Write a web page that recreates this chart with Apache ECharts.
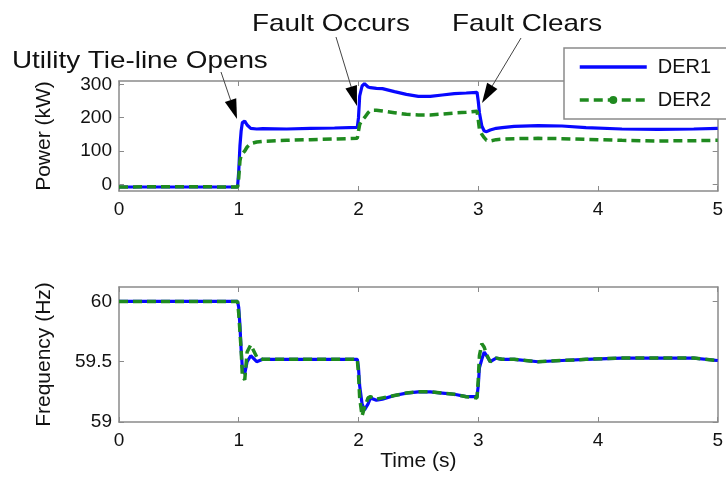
<!DOCTYPE html>
<html>
<head>
<meta charset="utf-8">
<script src="https://cdn.jsdelivr.net/npm/echarts@6/dist/echarts.min.js"></script>
<style>
    html, body { margin: 0; padding: 0; background: #fff; }
    #chart { width: 726px; height: 485px; }
</style>
</head>
<body>
<div id="chart"></div>
<script>
// time samples (s), shared by all four traces
const time = [0, 0.5, 0.99, 1.0, 1.01, 1.02, 1.03, 1.05, 1.07, 1.1, 1.15, 1.2, 1.4, 1.6, 1.8, 1.99,
    2.0, 2.01, 2.03, 2.05, 2.08, 2.1, 2.15, 2.2, 2.3, 2.4, 2.5, 2.6, 2.7, 2.8, 2.9, 2.99,
    3.0, 3.01, 3.03, 3.05, 3.07, 3.1, 3.15, 3.2, 3.3, 3.5, 3.7, 3.9, 4.2, 4.5, 4.8, 5.0];

// power (kW)
const der1Power = [-8, -8, -8, 40, 115, 160, 185, 190, 178, 168, 166, 167, 166, 168, 169, 171,
    200, 265, 295, 302, 292, 290, 288, 287, 278, 270, 264, 264, 268, 272, 274, 276,
    250, 215, 175, 160, 158, 163, 168, 170, 174, 176, 175, 170, 166, 165, 166, 168];
const der2Power = [-8, -7, -8, 20, 70, 88, 92, 100, 112, 122, 127, 129, 132, 134, 136, 138,
    160, 180, 192, 200, 215, 222, 222, 220, 215, 210, 208, 208, 211, 214, 216, 219,
    195, 165, 150, 140, 132, 130, 134, 136, 137, 138, 137, 135, 132, 130, 131, 132];

// frequency (Hz)
const der1Freq = [60, 60, 60, 59.95, 59.8, 59.6, 59.45, 59.4, 59.5, 59.55, 59.5, 59.52, 59.52, 59.52, 59.52, 59.52,
    59.45, 59.3, 59.15, 59.1, 59.15, 59.2, 59.18, 59.19, 59.22, 59.24, 59.25, 59.25, 59.24, 59.23, 59.21, 59.21,
    59.3, 59.45, 59.52, 59.58, 59.55, 59.5, 59.53, 59.52, 59.52, 59.5, 59.51, 59.52, 59.53, 59.53, 59.53, 59.51];
const der2Freq = [60, 60, 60, 59.9, 59.75, 59.6, 59.38, 59.35, 59.58, 59.64, 59.54, 59.52, 59.52, 59.52, 59.52, 59.52,
    59.4, 59.2, 59.05, 59.12, 59.2, 59.21, 59.19, 59.2, 59.22, 59.24, 59.25, 59.25, 59.24, 59.23, 59.21, 59.2,
    59.35, 59.55, 59.65, 59.62, 59.56, 59.5, 59.53, 59.52, 59.52, 59.5, 59.51, 59.52, 59.53, 59.53, 59.53, 59.51];

const timeTicks = [0, 1, 2, 3, 4, 5];
const powerTicks = [0, 100, 200, 300];
const freqTicks = [59, 59.5, 60];

const annotations = [
    { text: 'Utility Tie-line Opens', left: 12, top: 61, from: [221, 72], to: [237, 119] },
    { text: 'Fault Occurs', left: 252, top: 24, from: [336, 37], to: [357, 106] },
    { text: 'Fault Clears', left: 452, top: 24, from: [521, 38], to: [482, 103] }
];

const FONT = '"Liberation Sans", Arial, Helvetica, sans-serif';
const FRAME = '#8a8a8a';
const BLUE = '#0808ff';
const GREEN = '#1f8a1f';

function pairs(xs, ys) {
    return xs.map((x, i) => [x, ys[i]]);
}

function xAxes(gridIndex) {
    const base = {
        type: 'value', gridIndex: gridIndex, min: 0, max: 5, interval: 1,
        axisLine: { show: true, onZero: false, lineStyle: { color: FRAME, width: 1.5 } },
        axisTick: { show: true, inside: true, length: 5, lineStyle: { color: FRAME } },
        splitLine: { show: false }
    };
    return [
        Object.assign({}, base, {
            position: 'bottom',
            axisLabel: { color: '#111', fontSize: 19, fontFamily: FONT, margin: 9 },
            name: gridIndex === 1 ? 'Time (s)' : '',
            nameLocation: 'middle', nameGap: 28,
            nameTextStyle: { color: '#111', fontSize: 21, fontFamily: FONT }
        }),
        Object.assign({}, base, { position: 'top', axisLabel: { show: false } })
    ];
}

function yAxes(gridIndex, min, max, ticks, name) {
    const base = {
        type: 'value', gridIndex: gridIndex, min: min, max: max,
        axisLine: { show: true, onZero: false, lineStyle: { color: FRAME, width: 1.5 } },
        axisTick: { show: true, inside: true, length: 5, customValues: ticks, lineStyle: { color: FRAME } },
        splitLine: { show: false }
    };
    return [
        Object.assign({}, base, {
            position: 'left',
            axisLabel: { color: '#111', fontSize: 19, fontFamily: FONT, margin: 7, customValues: ticks },
            name: name, nameLocation: 'middle', nameGap: 64, nameRotate: 90,
            nameTextStyle: { color: '#111', fontSize: 21, fontFamily: FONT }
        }),
        Object.assign({}, base, { position: 'right', axisLabel: { show: false } })
    ];
}

function arrowGraphic(a) {
    const [x1, y1] = a.from;
    const [x2, y2] = a.to;
    const ang = Math.atan2(y2 - y1, x2 - x1);
    const len = 20, half = 6;
    const bx = x2 - len * Math.cos(ang);
    const by = y2 - len * Math.sin(ang);
    const nx = -Math.sin(ang) * half;
    const ny = Math.cos(ang) * half;
    return [
        { type: 'line', shape: { x1: x1, y1: y1, x2: bx, y2: by }, style: { stroke: '#444', lineWidth: 1 } },
        { type: 'polygon', shape: { points: [[x2, y2], [bx + nx, by + ny], [bx - nx, by - ny]] }, style: { fill: '#000' } }
    ];
}

const graphics = [];
annotations.forEach((a) => {
    graphics.push({
        type: 'text', x: a.left, y: a.top, scaleX: 1.16, z: 10,
        style: { text: a.text, font: '24px ' + FONT, fill: '#111', verticalAlign: 'middle' }
    });
    arrowGraphic(a).forEach((g) => graphics.push(Object.assign({ z: 10 }, g)));
});

const chart = echarts.init(document.getElementById('chart'));

chart.setOption({
    animation: false,
    backgroundColor: '#fff',
    grid: [
        { left: 119, right: 5, top: 81, height: 110 },
        { left: 119, right: 5, top: 287, height: 135 }
    ],
    xAxis: xAxes(0).concat(xAxes(1)),
    yAxis: yAxes(0, -20, 310, powerTicks, 'Power (kW)').concat(yAxes(1, 59, 60.12, freqTicks, 'Frequency (Hz)')),
    legend: {
        data: [{ name: 'DER1', itemStyle: { opacity: 0 } }, 'DER2'],
        orient: 'vertical',
        left: 564, top: 48,
        padding: [9, 40, 9, 14],
        itemWidth: 67, itemHeight: 10, itemGap: 13,
        borderColor: FRAME, borderWidth: 1.5,
        backgroundColor: '#fff',
        lineStyle: { width: 3.5 },
        textStyle: { color: '#111', fontSize: 20, fontFamily: FONT, padding: [0, 0, 0, 6] }
    },
    graphic: graphics,
    series: [
        {
            name: 'DER1', type: 'line', xAxisIndex: 0, yAxisIndex: 0,
            data: pairs(time, der1Power), symbol: 'none',
            lineStyle: { color: BLUE, width: 3.2 }, itemStyle: { color: BLUE }
        },
        {
            name: 'DER2', type: 'line', xAxisIndex: 0, yAxisIndex: 0,
            data: pairs(time, der2Power), symbol: 'circle', showSymbol: false, symbolSize: 7,
            lineStyle: { color: GREEN, width: 3.5, type: [9, 5] }, itemStyle: { color: GREEN }
        },
        {
            name: 'DER1', type: 'line', xAxisIndex: 2, yAxisIndex: 2,
            data: pairs(time, der1Freq), symbol: 'none',
            lineStyle: { color: BLUE, width: 3.2 }, itemStyle: { color: BLUE }
        },
        {
            name: 'DER2', type: 'line', xAxisIndex: 2, yAxisIndex: 2,
            data: pairs(time, der2Freq), symbol: 'circle', showSymbol: false, symbolSize: 7,
            lineStyle: { color: GREEN, width: 3.5, type: [9, 5] }, itemStyle: { color: GREEN }
        }
    ]
});

window.addEventListener('resize', () => {
    chart.resize();
});
</script>
</body>
</html>
